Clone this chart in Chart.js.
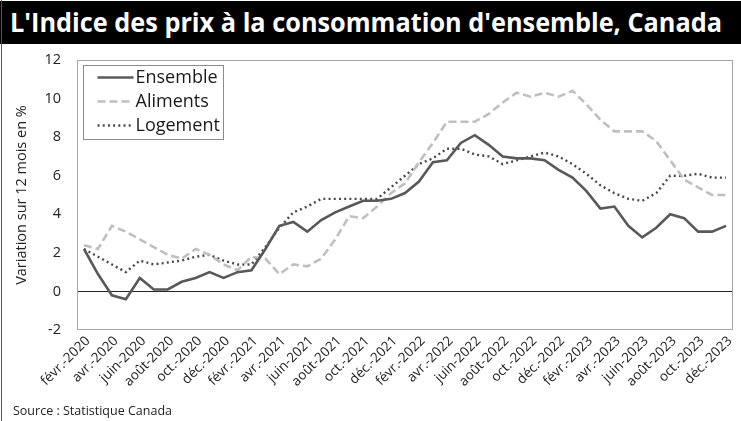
<!DOCTYPE html>
<html lang="fr">
<head>
<meta charset="utf-8">
<script src="https://cdn.jsdelivr.net/npm/chart.js@4.4.1/dist/chart.umd.min.js"></script>
<style>
  html, body { margin: 0; padding: 0; background: #fff; }
  #wrap { position: relative; width: 741px; height: 421px; background: #fff; overflow: hidden; }
  #frame { position: absolute; left: 1px; top: 0; width: 0; height: 421px; border-left: 1px solid #555; }
  #title { position: absolute; left: 0; top: 1px; width: 741px; height: 43px; background: #000; }
  #title span { position: absolute; left: 10px; top: 3px; color: #fff; font-family: "Open Sans", sans-serif; font-weight: 700; font-size: 27px; line-height: 36px; white-space: nowrap; transform-origin: 0 0; }
  #chartbox { position: absolute; left: 0; top: 44px; width: 741px; height: 377px; }
  #source { position: absolute; left: 13px; top: 402px; font-family: "Open Sans", sans-serif; font-size: 12.5px; color: #222; white-space: nowrap; }
</style>
</head>
<body>
<div id="wrap">
  <div id="title"><span id="titletext">L'Indice des prix à la consommation d'ensemble, Canada</span></div>
  <div id="chartbox"><canvas id="c" width="741" height="377"></canvas></div>
  <div id="frame"></div>
  <div id="source">Source : Statistique Canada</div>
</div>
<script>
// ---- Data ----
const months = [
  "févr.-2020","mars-2020","avr.-2020","mai-2020","juin-2020","juil.-2020","août-2020","sept.-2020","oct.-2020","nov.-2020","déc.-2020",
  "janv.-2021","févr.-2021","mars-2021","avr.-2021","mai-2021","juin-2021","juil.-2021","août-2021","sept.-2021","oct.-2021","nov.-2021","déc.-2021",
  "janv.-2022","févr.-2022","mars-2022","avr.-2022","mai-2022","juin-2022","juil.-2022","août-2022","sept.-2022","oct.-2022","nov.-2022","déc.-2022",
  "janv.-2023","févr.-2023","mars-2023","avr.-2023","mai-2023","juin-2023","juil.-2023","août-2023","sept.-2023","oct.-2023","nov.-2023","déc.-2023"
];
const ensemble = [
  2.2, 0.9, -0.2, -0.4, 0.7, 0.1, 0.1, 0.5, 0.7, 1.0, 0.7,
  1.0, 1.1, 2.2, 3.4, 3.6, 3.1, 3.7, 4.1, 4.4, 4.7, 4.7, 4.8,
  5.1, 5.7, 6.7, 6.8, 7.7, 8.1, 7.6, 7.0, 6.9, 6.9, 6.8, 6.3,
  5.9, 5.2, 4.3, 4.4, 3.4, 2.8, 3.3, 4.0, 3.8, 3.1, 3.1, 3.4
];
const aliments = [
  2.4, 2.2, 3.4, 3.1, 2.7, 2.3, 1.9, 1.7, 2.2, 1.9, 1.4,
  1.1, 1.8, 1.7, 0.9, 1.4, 1.3, 1.7, 2.7, 3.9, 3.8, 4.4, 5.1,
  5.6, 6.7, 7.7, 8.8, 8.8, 8.8, 9.2, 9.8, 10.3, 10.1, 10.3, 10.1,
  10.4, 9.7, 8.9, 8.3, 8.3, 8.3, 7.8, 6.8, 5.8, 5.4, 5.0, 5.0
];
const logement = [
  2.2, 1.8, 1.4, 1.0, 1.6, 1.4, 1.5, 1.6, 1.8, 1.9, 1.6,
  1.4, 1.4, 2.3, 3.3, 4.1, 4.4, 4.8, 4.8, 4.8, 4.8, 4.8, 5.4,
  6.0, 6.6, 6.9, 7.4, 7.4, 7.1, 7.0, 6.6, 6.8, 7.0, 7.2, 7.0,
  6.6, 6.1, 5.5, 5.1, 4.8, 4.7, 5.1, 6.0, 6.0, 6.1, 5.9, 5.9
];
const seriesNames = ["Ensemble", "Aliments", "Logement"];
const yTicks = { min: -2, max: 12, step: 2 };
const yTitle = "Variation sur 12 mois en %";

// ---- fit title width ----
(function fitTitle(){
  const t = document.getElementById('titletext');
  const w = t.getBoundingClientRect().width;
  if (w > 0) t.style.transform = 'scaleX(' + (712 / w) + ')';
})();

const FONT = '"Open Sans", sans-serif';

const plotBox = {
  id: 'plotBox',
  beforeDatasetsDraw(chart) {
    const {ctx, chartArea: a} = chart;
    ctx.save();
    ctx.strokeStyle = '#a6a6a6';
    ctx.lineWidth = 1;
    ctx.strokeRect(Math.round(a.left) + 0.5, Math.round(a.top) + 0.5, Math.round(a.right - a.left) - 1, Math.round(a.bottom - a.top) - 1);
    ctx.restore();
  }
};

const boxLegend = {
  id: 'boxLegend',
  afterDatasetsDraw(chart) {
    const {ctx, chartArea: a} = chart;
    const x0 = Math.round(a.left) + 6.5, y0 = Math.round(a.top) + 5.5;
    const w = 140, h = 74;
    ctx.save();
    ctx.fillStyle = '#fff';
    ctx.fillRect(x0, y0, w, h);
    ctx.strokeStyle = '#8c8c8c';
    ctx.lineWidth = 1;
    ctx.strokeRect(x0, y0, w, h);
    ctx.font = '18px ' + FONT;
    ctx.textBaseline = 'middle';
    ctx.fillStyle = '#1a1a1a';
    chart.data.datasets.forEach((ds, i) => {
      const cy = y0 + 12 + i * 24;
      ctx.save();
      ctx.strokeStyle = ds.borderColor;
      ctx.lineWidth = ds.borderWidth;
      ctx.setLineDash(ds.borderDash || []);
      ctx.lineCap = ds.borderCapStyle || 'butt';
      ctx.beginPath();
      ctx.moveTo(x0 + 14, cy);
      ctx.lineTo(x0 + 50, cy);
      ctx.stroke();
      ctx.restore();
      ctx.fillText(ds.label, x0 + 52, cy);
    });
    ctx.restore();
  }
};

new Chart(document.getElementById('c'), {
  type: 'line',
  data: {
    labels: months,
    datasets: [
      { label: seriesNames[0], data: ensemble, borderColor: '#595959', borderWidth: 2.6, borderDash: [], pointRadius: 0, tension: 0, fill: false },
      { label: seriesNames[1], data: aliments, borderColor: '#bfbfbf', borderWidth: 2.6, borderDash: [8, 4], pointRadius: 0, tension: 0, fill: false },
      { label: seriesNames[2], data: logement, borderColor: '#4a4a4a', borderWidth: 2.4, borderDash: [2, 3.2], pointRadius: 0, tension: 0, fill: false }
    ]
  },
  options: {
    responsive: false,
    animation: false,
    events: [],
    layout: { padding: { top: 16, right: 8, left: 0, bottom: 0 } },
    plugins: { legend: { display: false }, tooltip: { enabled: false }, title: { display: false } },
    scales: {
      x: {
        type: 'category',
        offset: true,
        grid: { display: false, drawTicks: false },
        border: { display: false },
        ticks: {
          autoSkip: false,
          maxRotation: 45,
          minRotation: 45,
          padding: 3,
          labelOffset: 4,
          color: '#222',
          font: { family: FONT, size: 13.5 },
          callback: function(v, i) { return i % 2 === 0 ? this.getLabelForValue(v) : ''; }
        },
        afterFit: (s) => { s.height = 91; }
      },
      y: {
        min: yTicks.min,
        max: yTicks.max,
        grid: {
          drawTicks: false,
          color: (c) => (c.tick && c.tick.value === 0) ? '#262626' : 'rgba(0,0,0,0)',
          lineWidth: 1
        },
        border: { display: false },
        ticks: {
          stepSize: yTicks.step,
          padding: 16,
          color: '#222',
          font: { family: FONT, size: 14.5 }
        },
        title: {
          display: true,
          text: yTitle,
          color: '#222',
          font: { family: FONT, size: 14.5 },
          padding: { top: 13, bottom: 0 }
        },
        afterFit: (s) => { s.width = 77; s.paddingTop = 8; s.paddingBottom = 8; }
      }
    }
  },
  plugins: [plotBox, boxLegend]
});
</script>
</body>
</html>
